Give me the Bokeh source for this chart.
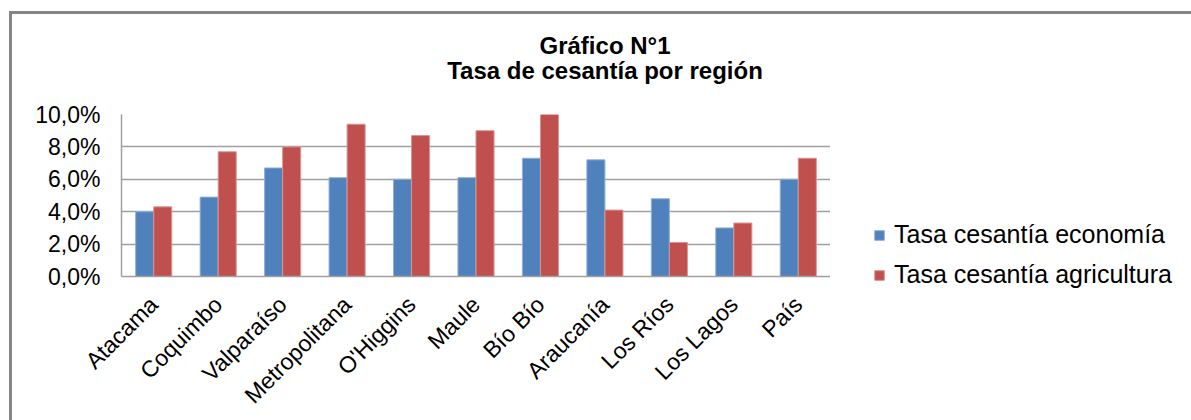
import math
from bokeh.plotting import figure
from bokeh.layouts import row, column
from bokeh.models import (FactorRange, Range1d, FixedTicker, CustomJSTickFormatter,
                          Legend, LegendItem, Div, InlineStyleSheet)
from bokeh.transform import dodge
from bokeh.embed import file_html
from bokeh.resources import INLINE

regions = ["Atacama", "Coquimbo", "Valparaíso", "Metropolitana", "O'Higgins",
           "Maule", "Bío Bío", "Araucanía", "Los Ríos", "Los Lagos", "País"]
tasa_economia = [4.0, 4.9, 6.7, 6.1, 6.0, 6.1, 7.3, 7.2, 4.8, 3.0, 6.0]
tasa_agricultura = [4.3, 7.7, 8.0, 9.4, 8.7, 9.0, 10.0, 4.1, 2.1, 3.3, 7.3]
y_ticks = [0, 2, 4, 6, 8, 10]
title_lines = ["Gráfico N°1", "Tasa de cesantía por región"]
series_names = ["Tasa cesantía economía", "Tasa cesantía agricultura"]

FONT = "Liberation Sans"
BLUE = "#4F81BD"
RED = "#C0504D"
GRID = "#A0A0A0"
TITLE_H = 90

# --- title ---------------------------------------------------------------
title_html = ("<div style=\"box-sizing:border-box; width:1191px; "
              "padding:33px 0 0 19px; margin:0; text-align:center; "
              f"font-family:'{FONT}'; font-weight:bold; font-size:24px; "
              "line-height:25px; color:#000;\">"
              + "<br>".join(title_lines) + "</div>")
title = Div(text=title_html, width=1191, height=TITLE_H,
            styles={"overflow": "hidden", "margin": "0", "padding": "0"})

# --- main chart ----------------------------------------------------------
p = figure(width=830, height=420 - TITLE_H, x_range=FactorRange(*regions),
           y_range=Range1d(0, 10), output_backend="svg", toolbar_location=None,
           min_border_left=121, min_border_right=0, min_border_top=114 - TITLE_H,
           min_border_bottom=420 - 114 - 164)
p.outline_line_color = None
p.background_fill_color = "white"
p.border_fill_color = "white"

src = dict(cat=regions, eco=tasa_economia, agr=tasa_agricultura)
p.vbar(x=dodge("cat", -0.14, range=p.x_range), top="eco", width=0.28,
       source=src, fill_color=BLUE, line_color="#8FB0D8", line_width=1)
p.vbar(x=dodge("cat", 0.14, range=p.x_range), top="agr", width=0.28,
       source=src, fill_color=RED, line_color="#D99593", line_width=1)

p.yaxis.ticker = FixedTicker(ticks=y_ticks)
p.yaxis.formatter = CustomJSTickFormatter(
    code="return tick.toFixed(1).replace('.', ',') + '%';")
p.yaxis.major_label_text_font = FONT
p.yaxis.major_label_text_font_size = "23px"
p.yaxis.major_label_text_color = "#000000"
p.yaxis.major_tick_out = 0
p.yaxis.major_tick_in = 0
p.yaxis.minor_tick_line_color = None
p.yaxis.axis_line_color = GRID
p.yaxis.axis_line_width = 1.5
p.yaxis.major_label_standoff = 21

p.xaxis.major_label_orientation = math.pi / 4
p.xaxis.major_label_text_font = FONT
p.xaxis.major_label_text_font_size = "23px"
p.xaxis.major_label_text_color = "#000000"
p.xaxis.major_tick_out = 0
p.xaxis.major_tick_in = 0
p.xaxis.major_tick_line_color = None
p.xaxis.axis_line_color = GRID
p.xaxis.axis_line_width = 1.5
p.xaxis.major_label_standoff = 24

p.xgrid.grid_line_color = None
p.ygrid.grid_line_color = GRID
p.ygrid.grid_line_width = 1.5
p.ygrid.ticker = FixedTicker(ticks=y_ticks)

# --- legend area (key renderers sit outside this panel's visible range) ---
lg = figure(width=361, height=420 - TITLE_H, x_range=FactorRange(*regions),
            y_range=Range1d(-2, -1), output_backend="svg",
            toolbar_location=None, x_axis_type=None, y_axis_type=None,
            min_border=0)
lg.outline_line_color = None
lg.xgrid.visible = False
lg.ygrid.visible = False
lg.background_fill_alpha = 0
k1 = lg.vbar(x="cat", top="eco", width=0.28, source=src,
             fill_color=BLUE, line_color="#8FB0D8")
k2 = lg.vbar(x="cat", top="agr", width=0.28, source=src,
             fill_color=RED, line_color="#D99593")
legend = Legend(items=[LegendItem(label=series_names[0], renderers=[k1]),
                       LegendItem(label=series_names[1], renderers=[k2])],
                location=(43, -13), orientation="vertical",
                padding=0, margin=0, spacing=11, glyph_width=12,
                glyph_height=12, label_height=24, label_standoff=9,
                label_text_font=FONT, label_text_font_size="25px",
                label_text_color="#000000", background_fill_alpha=0,
                border_line_color=None)
lg.add_layout(legend, "left")

border_css = InlineStyleSheet(css="""
:host { position: relative; overflow: hidden; }
:host::after { content: ""; position: absolute; left: 9px; top: 11px;
  width: 3000px; height: 3000px; border-left: 3px solid #868686;
  border-top: 3px solid #868686; pointer-events: none; z-index: 100; }
""")
layout = column(title, row(p, lg, spacing=0), spacing=0,
                stylesheets=[border_css])

open("out.html", "w").write(file_html(layout, INLINE))
